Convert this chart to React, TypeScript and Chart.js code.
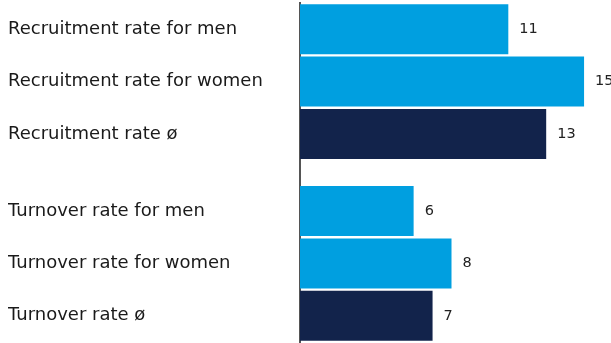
import React, { useEffect, useRef } from "react";
import { Chart, registerables } from "chart.js";

Chart.register(...registerables);

const categories = [
  "Recruitment rate for men",
  "Recruitment rate for women",
  "Recruitment rate ø",
  "Turnover rate for men",
  "Turnover rate for women",
  "Turnover rate ø",
];
const values = [11, 15, 13, 6, 8, 7];
// row slots on the index axis (a small gap separates the two groups)
const slots = [0, 1, 2, 3.47, 4.47, 5.47];
const LIGHT = "#009FE0";
const DARK = "#12234B";
const barColors = [LIGHT, LIGHT, DARK, LIGHT, LIGHT, DARK];

const FONT = "'DejaVu Sans', sans-serif";

const valueLabels = {
  id: "valueLabels",
  afterDatasetsDraw(chart: any) {
    const ctx = chart.ctx;
    const meta = chart.getDatasetMeta(0);
    ctx.save();
    ctx.font = `14.5px ${FONT}`;
    ctx.fillStyle = "#222222";
    ctx.textAlign = "left";
    ctx.textBaseline = "middle";
    meta.data.forEach((el: any, i: number) => {
      ctx.fillText(String(values[i]), el.x + 11, el.y);
    });
    ctx.restore();
  },
};

export default function App() {
  const ref = useRef<HTMLCanvasElement | null>(null);
  useEffect(() => {
    if (!ref.current) return;
    const chart = new Chart(ref.current, {
      type: "bar",
      data: {
        datasets: [
          {
            data: values.map((v, i) => ({ x: v, y: slots[i] })) as any,
            backgroundColor: barColors,
            borderWidth: 0,
            barPercentage: 0.955,
            categoryPercentage: 1,
          },
        ],
      },
      options: {
        indexAxis: "y",
        animation: false,
        responsive: true,
        maintainAspectRatio: false,
        layout: { padding: { left: 8, right: 8, top: 3, bottom: 1 } },
        plugins: { legend: { display: false }, tooltip: { enabled: false } },
        scales: {
          x: { display: false, min: 0, max: 16 },
          y: {
            type: "linear",
            reverse: true,
            offset: false,
            min: -0.5,
            max: 5.97,
            afterBuildTicks: (s: any) => {
              s.ticks = slots.map((v) => ({ value: v }));
            },
            afterFit: (s: any) => {
              s.width = 292;
              s.paddingTop = 0;
              s.paddingBottom = 0;
            },
            ticks: {
              autoSkip: false,
              crossAlign: "far",
              padding: 0,
              color: "#1a1a1a",
              font: { family: FONT, size: 18 },
              callback: (_v: any, idx: number) => categories[idx],
            },
            grid: { display: false, drawTicks: false },
            border: { display: true, color: "#555555", width: 2 },
          },
        },
      },
      plugins: [valueLabels],
    } as any);
    return () => chart.destroy();
  }, []);
  return (
    <div style={{ position: "fixed", left: 0, top: 0, width: 611, height: 343 }}>
      <canvas ref={ref} />
    </div>
  );
}
